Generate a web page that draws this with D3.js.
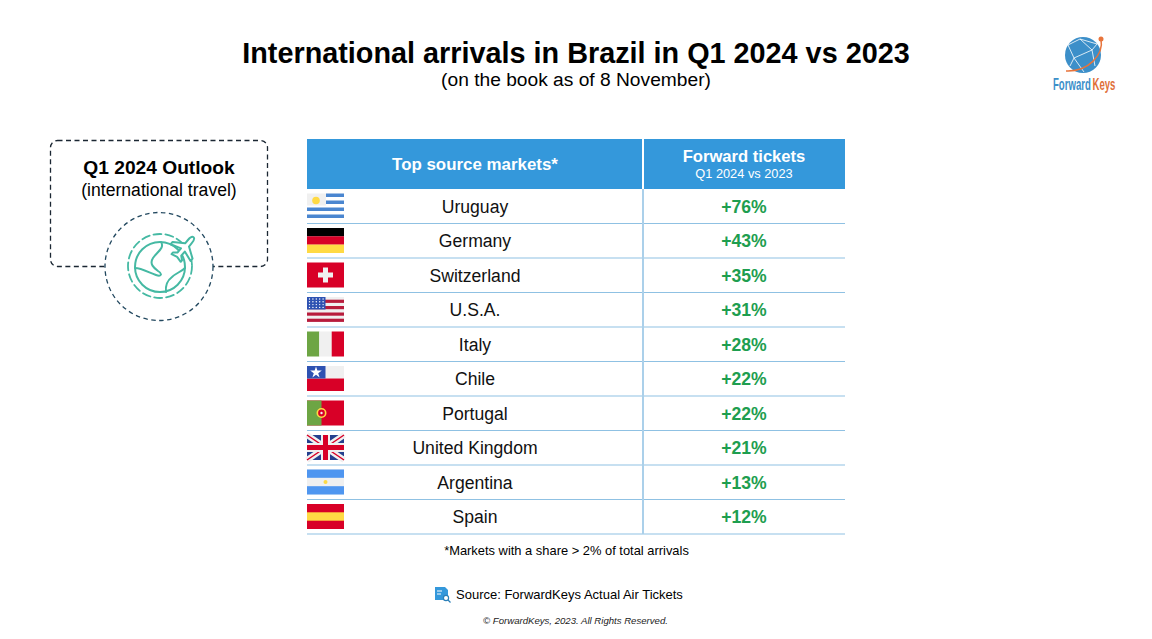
<!DOCTYPE html>
<html>
<head>
<meta charset="utf-8">
<style>
  html, body { margin: 0; padding: 0; background: #fff; overflow: hidden; }
  text { font-family: "Liberation Sans", Arial, sans-serif; }
</style>
</head>
<body>
<div id="chart"></div>
<script src="https://d3js.org/d3.v7.min.js"></script>
<script>
  // data
  const markets = ['Uruguay', 'Germany', 'Switzerland', 'U.S.A.', 'Italy', 'Chile', 'Portugal', 'United Kingdom', 'Argentina', 'Spain'];
  const growth = [76, 43, 35, 31, 28, 22, 22, 21, 13, 12];

  const svg = d3.select('#chart').append('svg')
    .attr('width', 1152)
    .attr('height', 639)
    .style('display', 'block');

  const label = (x, y, txt, size, opts = {}) => svg.append('text')
    .attr('x', x).attr('y', y)
    .attr('text-anchor', opts.anchor || 'middle')
    .attr('font-size', size)
    .attr('font-weight', opts.weight || 'normal')
    .attr('font-style', opts.style || 'normal')
    .attr('fill', opts.fill || '#000')
    .text(txt);

  // titles
  label(576, 63, 'International arrivals in Brazil in Q1 2024 vs 2023', 28.8, { weight: 'bold' });
  label(576, 86, '(on the book as of 8 November)', 19.2);

  // table
  const y = d3.scaleBand().domain(markets).range([189, 534]);
  const blue = '#3498db', rule = '#8fc1e3';

  svg.append('rect').attr('x', 307).attr('y', 139).attr('width', 538).attr('height', 50).attr('fill', blue);
  label(475, 170, 'Top source markets*', 16.9, { weight: 'bold', fill: '#fff' });
  label(744, 162, 'Forward tickets', 16.6, { weight: 'bold', fill: '#fff' });
  label(744, 178, 'Q1 2024 vs 2023', 12.8, { fill: '#fff' });

  const rows = svg.selectAll('g.row')
    .data(markets)
    .enter()
    .append('g')
    .attr('class', 'row')
    .attr('transform', d => `translate(307,${y(d)})`);

  rows.append('line')
    .attr('x1', 0).attr('x2', 538)
    .attr('y1', y.bandwidth()).attr('y2', y.bandwidth())
    .attr('stroke', rule).attr('stroke-width', 1.2);

  rows.append('text')
    .attr('x', 168).attr('y', y.bandwidth() / 2 + 6.5)
    .attr('text-anchor', 'middle')
    .attr('font-size', 17.6)
    .attr('fill', '#111')
    .text(d => d);

  rows.append('text')
    .attr('x', 437).attr('y', y.bandwidth() / 2 + 6.5)
    .attr('text-anchor', 'middle')
    .attr('font-size', 17.6)
    .attr('font-weight', 'bold')
    .attr('fill', '#1e9e4f')
    .text((d, i) => '+' + growth[i] + '%');

  // column divider
  svg.append('line')
    .attr('x1', 643).attr('x2', 643).attr('y1', 139).attr('y2', 534)
    .attr('stroke', '#fff').attr('stroke-width', 2);
  svg.append('line')
    .attr('x1', 643).attr('x2', 643).attr('y1', 189).attr('y2', 534)
    .attr('stroke', rule).attr('stroke-width', 1.5);

  // flags, drawn on a 37 x 25 box
  const fw = 37, fh = 25;
  const red = '#d80027', white = '#f0f0f0', navy = '#2e52b2', flagBlue = '#4a86d0', green = '#6da544', gold = '#ffda44';
  const box = (g, x0, y0, w, h, c) => g.append('rect').attr('x', x0).attr('y', y0).attr('width', w).attr('height', h).attr('fill', c);

  const flags = {
    'Uruguay': g => {
      box(g, 0, 0, 19, 12, white);
      [[19, 0], [19, 7], [0, 14], [0, 21]].forEach(p => box(g, p[0], p[1], fw - p[0], 3.5, flagBlue));
      g.append('circle').attr('cx', 9).attr('cy', 7).attr('r', 3.8).attr('fill', gold);
    },
    'Germany': g => {
      box(g, 0, 0, fw, 8.4, '#000');
      box(g, 0, 8.3, fw, 8.4, red);
      box(g, 0, 16.6, fw, 8.4, gold);
    },
    'Switzerland': g => {
      box(g, 0, 0, fw, fh, red);
      box(g, 11, 10, 15, 5, white);
      box(g, 16, 5, 5, 15, white);
    },
    'U.S.A.': g => {
      box(g, 0, 0, fw, fh, white);
      [2.7, 9, 15.5, 21.7].forEach(v => box(g, 0, v, fw, 3.2, '#b81c3c'));
      box(g, 0, 0, 18.5, 12.5, navy);
      d3.range(4).forEach(r => d3.range(5).forEach(c =>
        g.append('circle').attr('cx', 2.5 + c * 3.4).attr('cy', 2 + r * 2.8).attr('r', 0.7).attr('fill', '#fff')));
    },
    'Italy': g => {
      box(g, 0, 0, 12.3, fh, green);
      box(g, 12.3, 0, 12.4, fh, white);
      box(g, 24.7, 0, 12.3, fh, red);
    },
    'Chile': g => {
      box(g, 0, 0, fw, 12.5, white);
      box(g, 0, 12.5, fw, 12.5, red);
      box(g, 0, 0, 18.5, 12.5, navy);
      g.append('path')
        .attr('d', d3.symbol().type(d3.symbolStar).size(42)())
        .attr('transform', 'translate(9,6.5)')
        .attr('fill', '#fff');
    },
    'Portugal': g => {
      box(g, 0, 0, fw, fh, red);
      box(g, 0, 0, 14.5, fh, green);
      g.append('circle').attr('cx', 14.5).attr('cy', 12.5).attr('r', 4.2).attr('fill', red).attr('stroke', gold).attr('stroke-width', 1.6);
      g.append('circle').attr('cx', 14.5).attr('cy', 12.5).attr('r', 1.2).attr('fill', white);
    },
    'United Kingdom': g => {
      box(g, 0, 0, fw, fh, '#24408e');
      const diag = (c, w) => g.append('path')
        .attr('d', `M0,0L${fw},${fh}M${fw},0L0,${fh}`)
        .attr('stroke', c).attr('stroke-width', w);
      diag(white, 6);
      diag(red, 1.5);
      box(g, 0, 8, fw, 9, white);
      box(g, 14, 0, 9, fh, white);
      box(g, 0, 10, fw, 5, red);
      box(g, 16, 0, 5, fh, red);
    },
    'Argentina': g => {
      box(g, 0, 0, fw, fh, white);
      box(g, 0, 0, fw, 8.3, '#4f96f0');
      box(g, 0, 16.7, fw, 8.3, '#4f96f0');
      g.append('circle').attr('cx', fw / 2).attr('cy', fh / 2).attr('r', 2).attr('fill', gold);
    },
    'Spain': g => {
      box(g, 0, 0, fw, fh, red);
      box(g, 0, 8.3, fw, 8.4, gold);
    }
  };

  rows.append('g')
    .attr('transform', 'translate(0,4.5)')
    .each(function(d) { flags[d](d3.select(this)); });

  // outlook box
  const dash = '#1b2733';
  svg.append('rect')
    .attr('x', 50.5).attr('y', 140.5).attr('width', 217).attr('height', 126).attr('rx', 7)
    .attr('fill', 'none').attr('stroke', dash).attr('stroke-width', 1.3).attr('stroke-dasharray', '5,3.5');
  label(159, 174, 'Q1 2024 Outlook', 19.2, { weight: 'bold' });
  label(159, 196, '(international travel)', 17.6);

  svg.append('circle')
    .attr('cx', 159).attr('cy', 266.5).attr('r', 54)
    .attr('fill', '#fff').attr('stroke', '#22485f').attr('stroke-width', 1.3).attr('stroke-dasharray', '4.5,3.5');

  const teal = '#45b9a3';
  const icon = svg.append('g').attr('fill', 'none').attr('stroke', teal).attr('stroke-width', 2)
    .attr('stroke-linecap', 'round').attr('stroke-linejoin', 'round');
  icon.append('circle').attr('cx', 160).attr('cy', 266).attr('r', 32).attr('stroke-width', 1.8).attr('stroke-dasharray', '8,4');
  icon.append('circle').attr('cx', 160).attr('cy', 267).attr('r', 25).attr('fill', '#fff');
  // land outlines on the globe
  icon.append('path').attr('d', 'M161,242 C165,248 157,252 153,258 C149,264 154,268 158,271 C163,274 161,277 156,275 C148,272 141,268 135,268');
  icon.append('path').attr('d', 'M166,292 C165,284 168,280 172,277 C176,273 181,272 185,268');
  // plane
  icon.append('path')
    .attr('transform', 'translate(184.5,248) rotate(40)')
    .attr('fill', '#fff')
    .attr('d', 'M0,-14 C2,-14 2.5,-11 2.5,-8 L2.5,-4 L13,3 L13,6 L2.5,2.5 L2.5,8 L6,11 L6,13 L0,11.5 L-6,13 L-6,11 L-2.5,8 L-2.5,2.5 L-13,6 L-13,3 L-2.5,-4 L-2.5,-8 C-2.5,-11 -2,-14 0,-14 Z');

  // logo
  const logo = svg.append('g');
  logo.append('circle').attr('cx', 1083).attr('cy', 55).attr('r', 18).attr('fill', '#3c8fc9');
  logo.append('path')
    .attr('d', 'M1068,45 L1080,39 L1097,44 M1068,45 L1074,58 L1070,66 M1074,58 L1092,50 L1097,44 M1080,39 L1092,50 L1095,66 M1074,58 L1084,72')
    .attr('fill', 'none').attr('stroke', '#fff').attr('stroke-opacity', 0.8).attr('stroke-width', 1);
  logo.append('path')
    .attr('d', 'M1101,39 C1104,55 1088,72 1066,71')
    .attr('fill', 'none').attr('stroke', '#e8743b').attr('stroke-width', 1.5);
  logo.append('circle').attr('cx', 1101).attr('cy', 39).attr('r', 2.5).attr('fill', '#e8743b');
  // condensed wordmark: squeeze each word horizontally, no narrow font here
  const logoWord = (x, sx, txt, c) => svg.append('text')
    .attr('transform', `translate(${x},90) scale(${sx},1)`)
    .attr('font-size', 16)
    .attr('font-weight', 'bold')
    .attr('fill', c)
    .text(txt);
  logoWord(1053, 0.6, 'Forward', '#3c8fc9');
  logoWord(1092.5, 0.6, 'Keys', '#e0703a');

  // footnotes
  label(566.5, 555, '*Markets with a share > 2% of total arrivals', 12.9);
  label(456, 599, 'Source: ForwardKeys Actual Air Tickets', 13, { anchor: 'start' });
  label(575.5, 624, '© ForwardKeys, 2023. All Rights Reserved.', 9.6, { style: 'italic', fill: '#222' });

  // source icon
  const src = svg.append('g');
  src.append('path').attr('d', 'M435,587 h10 l3,3 v10 h-13 Z').attr('fill', '#3498db');
  src.append('path').attr('d', 'M437,591 h5 M437,594 h4').attr('stroke', '#fff').attr('stroke-width', 1);
  src.append('circle').attr('cx', 446).attr('cy', 598).attr('r', 2.6).attr('fill', '#fff').attr('stroke', '#2a7fb8').attr('stroke-width', 1.2);
  src.append('line').attr('x1', 448).attr('y1', 600).attr('x2', 450.5).attr('y2', 602.5).attr('stroke', '#2a7fb8').attr('stroke-width', 1.2);
</script>
</body>
</html>
